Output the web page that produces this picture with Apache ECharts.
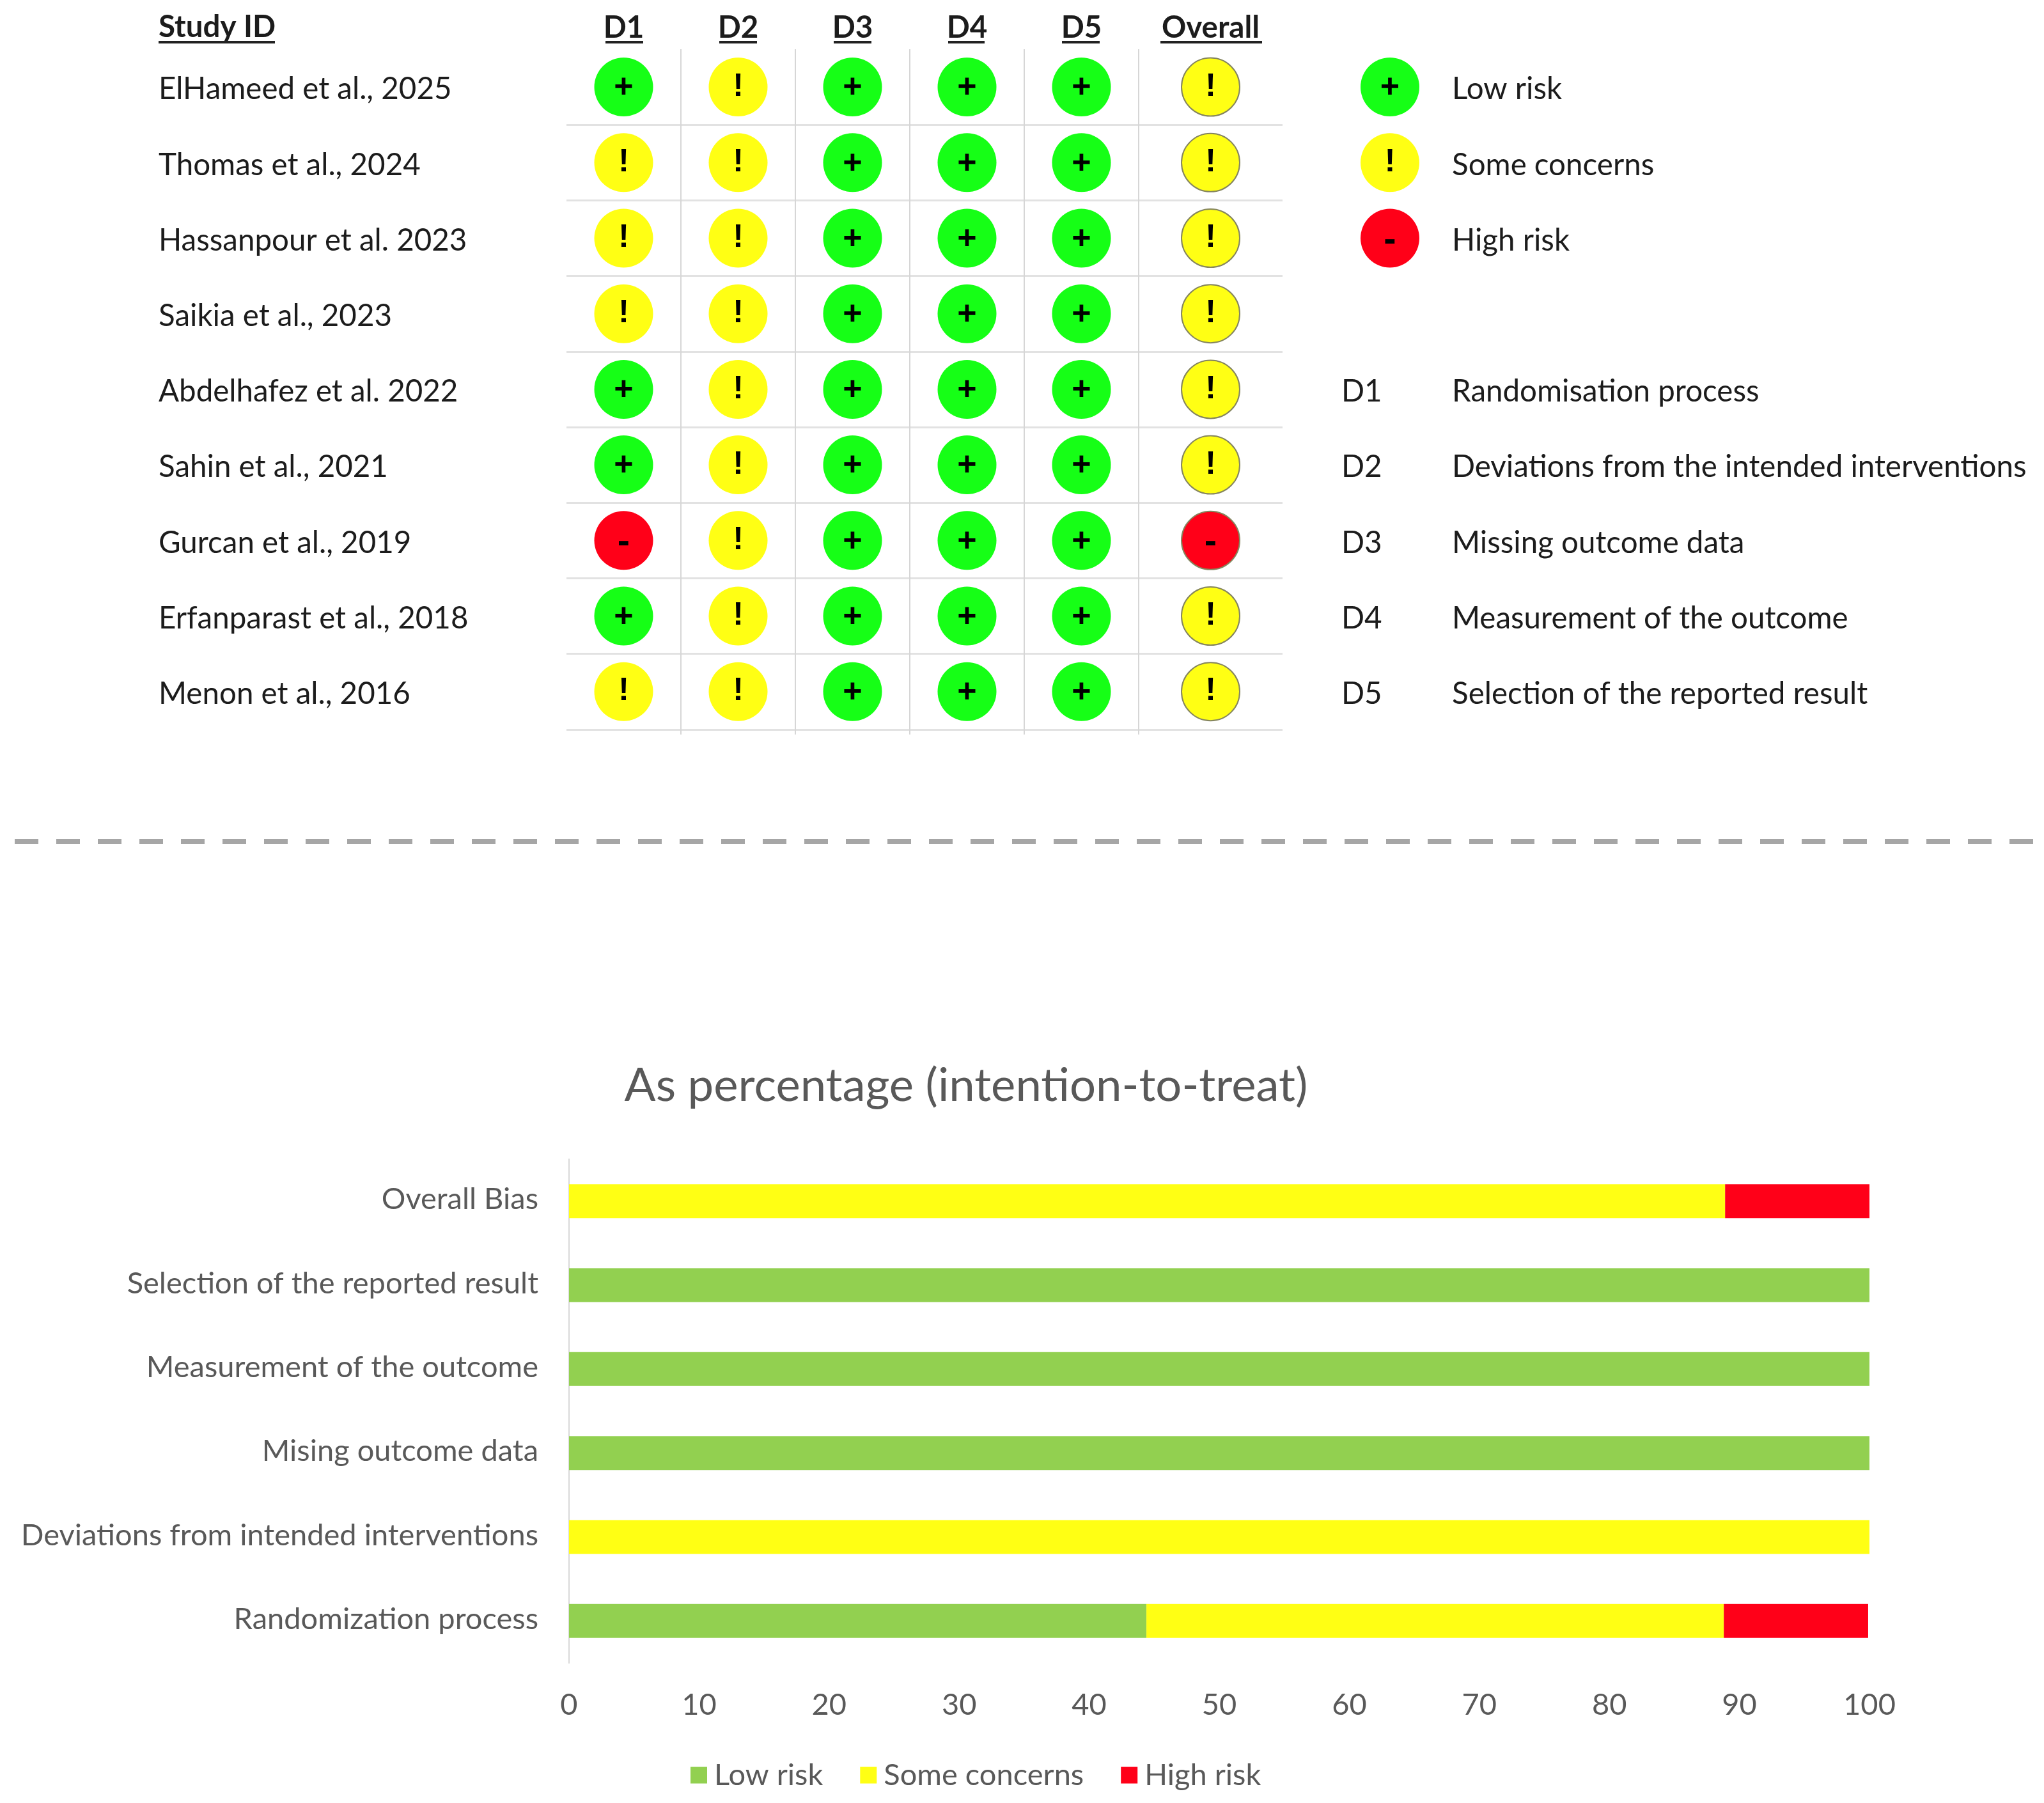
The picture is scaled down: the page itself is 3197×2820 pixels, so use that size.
<!DOCTYPE html>
<html><head><meta charset="utf-8">
<style>html,body{margin:0;padding:0;background:#fff}#c{width:3197px;height:2820px}</style>
<script src="https://cdn.jsdelivr.net/npm/echarts@6/dist/echarts.min.js"></script>
</head><body><div id="c"></div>
<script>
const studies=['ElHameed et al., 2025','Thomas et al., 2024','Hassanpour et al. 2023','Saikia et al., 2023','Abdelhafez et al. 2022','Sahin et al., 2021','Gurcan et al., 2019','Erfanparast et al., 2018','Menon et al., 2016'];
const domains=['D1','D2','D3','D4','D5'];
const D1=['L','S','S','S','L','L','H','L','S'];
const D2=['S','S','S','S','S','S','S','S','S'];
const D3=['L','L','L','L','L','L','L','L','L'];
const D4=['L','L','L','L','L','L','L','L','L'];
const D5=['L','L','L','L','L','L','L','L','L'];
const overall=['S','S','S','S','S','S','H','S','S'];
const riskNames=['Low risk','Some concerns','High risk'];
const keyCodes=['D1','D2','D3','D4','D5'];
const keyNames=['Randomisation process','Deviations from the intended interventions','Missing outcome data','Measurement of the outcome','Selection of the reported result'];
const barTitle='As percentage (intention-to-treat)';
const barCategories=['Randomization process','Deviations from intended interventions','Mising outcome data','Measurement of the outcome','Selection of the reported result','Overall Bias'];
const lowRisk=[44.4,0,100,100,100,0];
const someConcerns=[44.4,100,0,0,0,88.9];
const highRisk=[11.1,0,0,0,0,11.1];

const F='Lato, "Open Sans", sans-serif';
const INK='#1c1c1c', GREY='#595959';
const TOP_SIZE=47.5, HEAD_SIZE=47.5, BAR_SIZE=47;
const dotColor={L:'#16ff16',S:'#ffff14',H:'#ff0018'};
const glyph={L:'+',S:'!',H:'-'};
const glyphOffset={L:[0,2],S:[0,0],H:[0,4]};
const glyphSize={L:52,S:50,H:58};
const ROW=118.2, TOP=77;

function dots(code,pairs,xIdx,yIdx,border){
  return {type:'scatter',name:'dot-'+code+'-'+xIdx,xAxisIndex:xIdx,yAxisIndex:yIdx,symbol:'circle',symbolSize:border?91:92,
    data:pairs,silent:true,z:5,
    itemStyle:{color:dotColor[code],opacity:1,borderColor:border?'#85855e':'transparent',borderWidth:border?2:0},
    label:{show:true,position:'inside',formatter:glyph[code],color:'#000',fontFamily:'"Liberation Sans", sans-serif',fontWeight:'bold',fontSize:glyphSize[code],offset:glyphOffset[code]}};
}
const matrix=[D1,D2,D3,D4,D5];
const gridSeries=['L','S','H'].map(c=>{
  const pairs=[];
  matrix.forEach((col,i)=>col.forEach((v,j)=>{if(v===c)pairs.push([domains[i],studies[j]]);}));
  return dots(c,pairs,0,0,false);
});
const overallSeries=['L','S','H'].map(c=>{
  const pairs=[];
  overall.forEach((v,j)=>{if(v===c)pairs.push(['Overall',studies[j]]);});
  return dots(c,pairs,2,1,true);
});
const legendSeries=['L','S','H'].map((c,i)=>dots(c,[['key',riskNames[i]]],3,2,false));
const bars=[[riskNames[0],lowRisk,'#92d050'],[riskNames[1],someConcerns,'#ffff14'],[riskNames[2],highRisk,'#ff0018']].map(b=>({
  type:'bar',name:b[0],stack:'rob',xAxisIndex:4,yAxisIndex:3,data:b[1],barWidth:53,itemStyle:{color:b[2]},silent:true}));

const hLine={show:true,showMinLine:false,lineStyle:{color:'#e2e2e2',width:3}};
const vLine={show:true,showMinLine:false,lineStyle:{color:'#d6d6d6',width:2}};
const headLabel={show:true,color:INK,fontFamily:F,fontWeight:'bold',fontSize:HEAD_SIZE,margin:9};
const topRowLabel={formatter:v=>'{a|'+v+'}',rich:{a:{color:INK,fontFamily:F,fontSize:TOP_SIZE,padding:[8,0,0,0]}}};
const barRowLabel={formatter:v=>'{a|'+v+'}',rich:{a:{color:GREY,fontFamily:F,fontSize:BAR_SIZE,padding:[0,0,5,0]}}};

const graphic=[];
graphic.push({type:'text',x:248,y:43,style:{text:'Study ID',fontFamily:F,fontWeight:'bold',fontSize:HEAD_SIZE,fill:INK,textVerticalAlign:'middle'}});
[[248,430],[947,1006],[1125,1184],[1304,1363],[1483,1540],[1661,1720],[1815,1974]].forEach(u=>{
  graphic.push({type:'line',shape:{x1:u[0],y1:66,x2:u[1],y2:66},style:{stroke:'#222',lineWidth:4}});
});
keyCodes.forEach((k,i)=>{
  const y=TOP+ROW*(4.5+i)+4;
  graphic.push({type:'text',x:2098,y:y,style:{text:k,fontFamily:F,fontSize:TOP_SIZE,fill:INK,textVerticalAlign:'middle'}});
  graphic.push({type:'text',x:2271,y:y,style:{text:keyNames[i],fontFamily:F,fontSize:TOP_SIZE,fill:INK,textVerticalAlign:'middle'}});
});
graphic.push({type:'line',shape:{x1:23,y1:1316,x2:3180,y2:1316},style:{stroke:'#a6a6a6',lineWidth:8,lineDash:[37,28]}});

const option={
  animation:false,backgroundColor:'#fff',
  title:{text:barTitle,left:1506,top:1657,textAlign:'center',textStyle:{fontFamily:F,fontWeight:'normal',fontSize:72.5,color:GREY}},
  legend:{data:riskNames,left:1075,top:2748,icon:'rect',itemWidth:26,itemHeight:26,itemGap:58,selectedMode:false,
    textStyle:{fontFamily:F,fontSize:BAR_SIZE,color:GREY,padding:[0,0,0,6]}},
  grid:[
    {left:886,top:TOP,width:895,height:ROW*9},
    {left:1781,top:TOP,width:225,height:ROW*9},
    {left:2085,top:TOP,width:178,height:ROW*3},
    {left:890,top:1813,width:2034,height:788}
  ],
  xAxis:[
    {gridIndex:0,type:'category',data:domains,position:'top',axisLine:{show:false},axisTick:{show:false},axisLabel:headLabel,splitLine:vLine},
    {gridIndex:0,type:'category',data:domains,position:'bottom',axisLine:{show:false},axisLabel:{show:false},
      axisTick:{show:true,interval:(i)=>i>0,length:8,lineStyle:{color:'#d6d6d6',width:2}}},
    {gridIndex:1,type:'category',data:['Overall'],position:'top',axisLine:{show:false},axisTick:{show:false},axisLabel:headLabel,splitLine:{show:false}},
    {gridIndex:2,type:'category',data:['key'],show:false},
    {gridIndex:3,type:'value',min:0,max:100,interval:10,position:'bottom',axisLine:{show:false},axisTick:{show:false},splitLine:{show:false},
      axisLabel:{color:GREY,fontFamily:F,fontSize:BAR_SIZE,margin:42}}
  ],
  yAxis:[
    {gridIndex:0,type:'category',data:studies,inverse:true,axisLine:{show:false},axisTick:{show:false},splitLine:hLine,
      axisLabel:{align:'left',margin:638,...topRowLabel}},
    {gridIndex:1,type:'category',data:studies,inverse:true,axisLine:{show:false},axisTick:{show:false},axisLabel:{show:false},splitLine:hLine},
    {gridIndex:2,type:'category',data:riskNames,inverse:true,position:'right',axisLine:{show:false},axisTick:{show:false},splitLine:{show:false},
      axisLabel:{align:'left',margin:8,...topRowLabel}},
    {gridIndex:3,type:'category',data:barCategories,axisLine:{show:true,lineStyle:{color:'#d9d9d9',width:2}},axisTick:{show:false},splitLine:{show:false},
      axisLabel:{margin:48,...barRowLabel}}
  ],
  series:[...gridSeries,...overallSeries,...legendSeries,...bars],
  graphic:graphic
};
const chart=echarts.init(document.getElementById('c'),null,{renderer:'canvas'});
chart.setOption(option);
</script></body></html>
